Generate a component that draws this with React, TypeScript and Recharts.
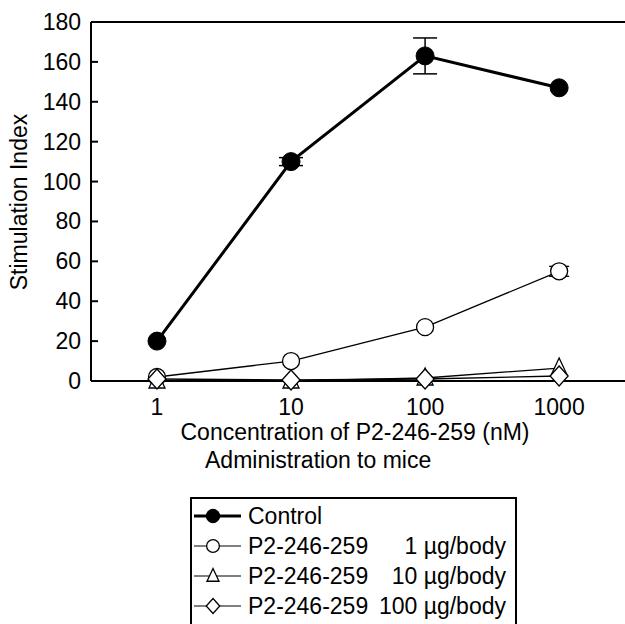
import React from "react";
import {
  LineChart,
  Line,
  XAxis,
  YAxis,
  ErrorBar,
  ReferenceLine,
  Label,
} from "recharts";

const concentrations = [1, 10, 100, 1000];
const control = [20, 110, 163, 147];
const controlErr = [0, 2, 9, 0];
const dose1 = [2, 10, 27, 55];
const dose1Err = [0, 0, 0, 2.5];
const dose10 = [0, 0, 1.5, 6.5];
const dose100 = [1, 0.5, 1, 2.5];
const yTicks = [0, 20, 40, 60, 80, 100, 120, 140, 160, 180];
const xTicks = [1, 10, 100, 1000];

const legendRows = [
  { name: "Control", dose: "", marker: "filled" },
  { name: "P2-246-259", dose: "1 \u00b5g/body", marker: "circle" },
  { name: "P2-246-259", dose: "10 \u00b5g/body", marker: "triangle" },
  { name: "P2-246-259", dose: "100 \u00b5g/body", marker: "diamond" },
];

const rows = concentrations.map((c, i) => ({
  conc: c,
  control: control[i],
  controlErr: controlErr[i],
  dose1: dose1[i],
  dose1Err: dose1Err[i],
  dose10: dose10[i],
  dose100: dose100[i],
}));

const FONT = "'Liberation Sans', Arial, sans-serif";
const FS = 23;

function Marker({ kind, cx, cy, s = 1 }: { kind: string; cx: number; cy: number; s?: number }) {
  if (kind === "filled") {
    return <circle cx={cx} cy={cy} r={9 * s} fill="#000" stroke="#000" />;
  }
  if (kind === "circle") {
    return <circle cx={cx} cy={cy} r={8.5 * s} fill="#fff" stroke="#000" strokeWidth={1.3} />;
  }
  if (kind === "triangle") {
    return (
      <polygon
        points={`${cx},${cy - 10 * s} ${cx + 8 * s},${cy + 7 * s} ${cx - 8 * s},${cy + 7 * s}`}
        fill="#fff"
        stroke="#000"
        strokeWidth={1.3}
      />
    );
  }
  return (
    <polygon
      points={`${cx},${cy - 10 * s} ${cx + 9 * s},${cy} ${cx},${cy + 10 * s} ${cx - 9 * s},${cy}`}
      fill="#fff"
      stroke="#000"
      strokeWidth={1.3}
    />
  );
}

const dotFor = (kind: string) => (props: any) =>
  <Marker key={`${kind}-${props.index}`} kind={kind} cx={props.cx} cy={props.cy} />;

const YTick = (props: any) => {
  const { x, y, payload } = props;
  return (
    <g>
      <line x1={x} x2={x + 7} y1={y} y2={y} stroke="#000" strokeWidth={2} />
      <text
        x={x - 10}
        y={y}
        textAnchor="end"
        dominantBaseline="central"
        fontSize={FS}
        fontFamily={FONT}
        fill="#000"
      >
        {payload.value}
      </text>
    </g>
  );
};

const XTick = (props: any) => {
  const { x, y, payload } = props;
  return (
    <text x={x} y={y + 34} textAnchor="middle" fontSize={FS} fontFamily={FONT} fill="#000">
      {payload.value}
    </text>
  );
};

function LegendSymbol({ kind }: { kind: string }) {
  return (
    <svg width={50} height={30} style={{ display: "block" }}>
      <line
        x1={2}
        x2={49}
        y1={15}
        y2={15}
        stroke="#000"
        strokeWidth={kind === "filled" ? 3 : 1.2}
      />
      <Marker kind={kind} cx={21} cy={15} s={0.75} />
    </svg>
  );
}

export default function App() {
  return (
    <div
      style={{
        position: "fixed",
        left: 0,
        top: 0,
        width: 625,
        height: 624,
        overflow: "hidden",
        background: "#fff",
        fontFamily: FONT,
      }}
    >
      <LineChart
        width={625}
        height={624}
        data={rows}
        margin={{ top: 22, right: 0, left: 0, bottom: 183 }}
      >
        <XAxis
          dataKey="conc"
          type="number"
          scale="log"
          domain={[0.322, 3100]}
          ticks={xTicks}
          allowDataOverflow
          height={60}
          tickLine={false}
          tickSize={0}
          tickMargin={0}
          tick={<XTick />}
          axisLine={{ stroke: "#000", strokeWidth: 2 }}
        >
          <Label
            content={(p: any) => (
              <text
                x={p.viewBox.x + p.viewBox.width / 2 - 3}
                y={440}
                textAnchor="middle"
                fontSize={FS}
                fontFamily={FONT}
                fill="#000"
              >
                Concentration of P2-246-259 (nM)
              </text>
            )}
          />
        </XAxis>
        <YAxis
          type="number"
          domain={[0, 180]}
          ticks={yTicks}
          width={91}
          tickLine={false}
          tickSize={0}
          tickMargin={0}
          tick={<YTick />}
          axisLine={{ stroke: "#000", strokeWidth: 2 }}
        >
          <Label
            content={() => (
              <text
                x={19}
                y={202}
                transform="rotate(-90 19 202)"
                textAnchor="middle"
                dominantBaseline="central"
                fontSize={FS}
                fontFamily={FONT}
                fill="#000"
              >
                Stimulation Index
              </text>
            )}
          />
        </YAxis>
        <ReferenceLine y={180} stroke="#000" strokeWidth={2} />
        <Line
          dataKey="dose1"
          stroke="#000"
          strokeWidth={1.3}
          dot={dotFor("circle")}
          isAnimationActive={false}
        >
          <ErrorBar dataKey="dose1Err" width={10} stroke="#000" strokeWidth={1.3} direction="y" />
        </Line>
        <Line
          dataKey="dose10"
          stroke="#000"
          strokeWidth={1.3}
          dot={dotFor("triangle")}
          isAnimationActive={false}
        />
        <Line
          dataKey="dose100"
          stroke="#000"
          strokeWidth={1.3}
          dot={dotFor("diamond")}
          isAnimationActive={false}
        />
        <Line
          dataKey="control"
          stroke="#000"
          strokeWidth={3}
          dot={dotFor("filled")}
          isAnimationActive={false}
        >
          <ErrorBar dataKey="controlErr" width={12} stroke="#000" strokeWidth={1.5} direction="y" />
        </Line>
      </LineChart>

      {/* Legend */}

      <div
        style={{
          position: "absolute",
          left: 205,
          top: 447,
          fontSize: FS,
          lineHeight: "26px",
          color: "#000",
        }}
      >
        Administration to mice
      </div>

      <div
        style={{
          position: "absolute",
          left: 190,
          top: 497,
          width: 327,
          height: 140,
          border: "2px solid #000",
          boxSizing: "border-box",
          paddingTop: 2,
        }}
      >
        {legendRows.map((r, i) => (
          <div
            key={i}
            style={{
              display: "flex",
              alignItems: "center",
              height: 30,
              fontSize: FS,
              color: "#000",
            }}
          >
            <LegendSymbol kind={r.marker} />
            <span style={{ marginLeft: 6 }}>{r.name}</span>
            <span style={{ marginLeft: "auto", marginRight: 9 }}>{r.dose}</span>
          </div>
        ))}
      </div>
    </div>
  );
}
